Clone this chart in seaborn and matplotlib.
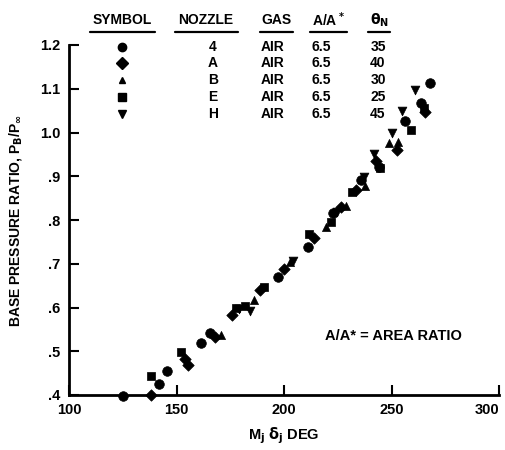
import matplotlib
matplotlib.use("Agg")
import matplotlib.pyplot as plt
import seaborn as sns
import pandas as pd
from matplotlib.lines import Line2D

# ---- data ----
x_nozzle4 = [125, 142, 145.5, 161.5, 165.5, 197, 211, 223, 236, 244, 256.5, 263.5, 268]
y_nozzle4 = [0.398, 0.425, 0.455, 0.518, 0.542, 0.670, 0.738, 0.815, 0.892, 0.922, 1.026, 1.067, 1.113]
x_nozzleA = [138, 154, 155.5, 168, 176, 189, 200, 214, 226.5, 233.5, 243, 252.5, 265.5]
y_nozzleA = [0.400, 0.482, 0.468, 0.533, 0.583, 0.640, 0.688, 0.760, 0.829, 0.868, 0.934, 0.960, 1.047]
x_nozzleB = [170.5, 186, 203, 219.5, 229, 237.5, 249, 253]
y_nozzleB = [0.538, 0.617, 0.704, 0.785, 0.832, 0.877, 0.976, 0.978]
x_nozzleE = [138, 152, 177.5, 182, 190.5, 211.5, 222, 231.5, 244.5, 259, 265]
y_nozzleE = [0.443, 0.498, 0.600, 0.603, 0.646, 0.767, 0.796, 0.864, 0.918, 1.006, 1.055]
x_nozzleH = [179, 184, 204, 224.5, 237, 242, 250, 255, 261]
y_nozzleH = [0.596, 0.592, 0.706, 0.818, 0.898, 0.951, 0.999, 1.049, 1.097]

nozzles = ["4", "A", "B", "E", "H"]
gases = ["AIR", "AIR", "AIR", "AIR", "AIR"]
area_ratios = ["6.5", "6.5", "6.5", "6.5", "6.5"]
theta_n = ["35", "40", "30", "25", "45"]
markers = ["o", "D", "^", "s", "v"]
sizes = [48, 34, 34, 38, 40]

x_ticks = [100, 150, 200, 250, 300]
x_ticklabels = ["100", "150", "200", "250", "300"]
y_ticks = [0.4, 0.5, 0.6, 0.7, 0.8, 0.9, 1.0, 1.1, 1.2]
y_ticklabels = [".4", ".5", ".6", ".7", ".8", ".9", "1.0", "1.1", "1.2"]

frames = []
for nz, xs, ys in zip(nozzles, [x_nozzle4, x_nozzleA, x_nozzleB, x_nozzleE, x_nozzleH],
                      [y_nozzle4, y_nozzleA, y_nozzleB, y_nozzleE, y_nozzleH]):
    frames.append(pd.DataFrame({"x": xs, "y": ys, "nozzle": nz}))
df = pd.concat(frames, ignore_index=True)

sns.set_style("ticks")
plt.rcParams["font.family"] = ["Liberation Sans", "DejaVu Sans"]
plt.rcParams["font.weight"] = "bold"
plt.rcParams["mathtext.default"] = "bf"
for k in ["text.color", "axes.labelcolor", "xtick.color", "ytick.color", "axes.edgecolor"]:
    plt.rcParams[k] = "black"

fig = plt.figure(figsize=(5.05, 4.5), dpi=100)
ax = fig.add_axes([69/505, 1-395/450, (499-69)/505, (395-45)/450])

for nz, mk, sz in zip(nozzles, markers, sizes):
    sub = df[df["nozzle"] == nz]
    sns.scatterplot(data=sub, x="x", y="y", marker=mk, s=sz, color="black",
                    edgecolor="black", linewidth=0.5, ax=ax, clip_on=False, legend=False)

ax.set_xlim(100, 300)
ax.set_ylim(0.4, 1.2)
ax.set_xticks(x_ticks)
ax.set_xticklabels(x_ticklabels, fontsize=10.5, fontweight="bold")
ax.get_xticklabels()[-1].set_horizontalalignment("right")
ax.set_yticks(y_ticks)
ax.set_yticklabels(y_ticklabels, fontsize=10.5, fontweight="bold")
ax.tick_params(axis="both", direction="in", length=7, width=1.5, colors="black", pad=6)
sns.despine(ax=ax, top=True, right=True)
for sp in ["left", "bottom"]:
    ax.spines[sp].set_linewidth(2)
    ax.spines[sp].set_color("black")

ax.set_xlabel(r"M$_j$ $\delta_j$ DEG", fontsize=10.5, fontweight="bold", labelpad=6)
ax.set_ylabel(r"BASE PRESSURE RATIO, P$_B$/P$_\infty$", fontsize=10, fontweight="bold", labelpad=12)

ax.text(325/505, 1-336/450, "A/A* = AREA RATIO", transform=fig.transFigure,
        fontsize=10.5, fontweight="bold", va="center", ha="left")

# ---- legend table ----
def fx(px):
    return px / 505
def fy(py):
    return 1 - py / 450

headers = [("SYMBOL", 122), ("NOZZLE", 206), ("GAS", 276), ("A/A$^*$", 328), (r"$\theta_N$", 379)]
for txt, cx in headers:
    fig.text(fx(cx), fy(20), txt, fontsize=10, fontweight="bold", ha="center", va="center")
underlines = [(90, 155), (175, 238), (260, 293), (310, 347), (368, 390)]
for a, b in underlines:
    fig.add_artist(Line2D([fx(a), fx(b)], [fy(32), fy(32)], color="black", lw=1.6))

row_y = [47, 63, 80, 97, 114]
for i, ry in enumerate(row_y):
    fig.add_artist(Line2D([fx(122)], [fy(ry)], marker=markers[i], color="black",
                          markersize=6 if markers[i] != "^" else 5, linestyle="none"))
    fig.text(fx(213), fy(ry), nozzles[i], fontsize=10, fontweight="bold", ha="center", va="center")
    fig.text(fx(273), fy(ry), gases[i], fontsize=10, fontweight="bold", ha="center", va="center")
    fig.text(fx(321), fy(ry), area_ratios[i], fontsize=10, fontweight="bold", ha="center", va="center")
    fig.text(fx(378), fy(ry), theta_n[i], fontsize=10, fontweight="bold", ha="center", va="center")

fig.savefig("out.png", dpi=100, facecolor="white")
